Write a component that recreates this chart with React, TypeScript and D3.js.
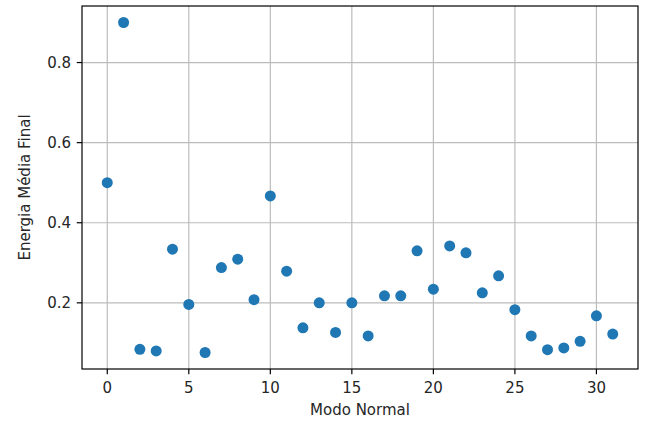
import * as d3 from 'd3';

const WIDTH = 645;
const HEIGHT = 423;
const MARGINS = { top: 6, right: 7, bottom: 54, left: 82 };

const modes = d3.range(0, 32);
const energies = [
  0.5, 0.9, 0.084, 0.08, 0.334, 0.196, 0.076, 0.288, 0.309, 0.208, 0.467, 0.279, 0.1375, 0.2, 0.126,
  0.2, 0.1175, 0.2175, 0.2175, 0.33, 0.234, 0.342, 0.325, 0.225, 0.2675, 0.183, 0.1175, 0.083, 0.0875,
  0.104, 0.1675, 0.122,
];
const xTicks = [0, 5, 10, 15, 20, 25, 30];
const yTicks = [0.2, 0.4, 0.6, 0.8];

const FONT = 'DejaVu Sans, sans-serif';

export default function App() {
  const innerW = WIDTH - MARGINS.left - MARGINS.right;
  const innerH = HEIGHT - MARGINS.top - MARGINS.bottom;

  // matplotlib default 5% margins around data range
  const xExt = d3.extent(modes) as [number, number];
  const yExt = d3.extent(energies) as [number, number];
  const xPad = (xExt[1] - xExt[0]) * 0.05;
  const yPad = (yExt[1] - yExt[0]) * 0.05;

  const x = d3.scaleLinear().domain([xExt[0] - xPad, xExt[1] + xPad]).range([0, innerW]);
  const y = d3.scaleLinear().domain([yExt[0] - yPad, yExt[1] + yPad]).range([innerH, 0]);

  return (
    <svg
      width={WIDTH}
      height={HEIGHT}
      style={{ position: 'absolute', left: 0, top: 0, background: '#fff' }}
      fontFamily={FONT}
    >
      <g transform={`translate(${MARGINS.left},${MARGINS.top})`}>
        {xTicks.map((t) => (
          <line key={`gx${t}`} x1={x(t)} x2={x(t)} y1={0} y2={innerH} stroke='#bcbcbc' strokeWidth={1.2} />
        ))}
        {yTicks.map((t) => (
          <line key={`gy${t}`} x1={0} x2={innerW} y1={y(t)} y2={y(t)} stroke='#bcbcbc' strokeWidth={1.2} />
        ))}
        {modes.map((m, i) => (
          <circle key={m} cx={x(m)} cy={y(energies[i])} r={5.5} fill='#1f77b4' />
        ))}
        <rect x={0} y={0} width={innerW} height={innerH} fill='none' stroke='#000' strokeWidth={1.2} />
        {xTicks.map((t) => (
          <g key={`tx${t}`} transform={`translate(${x(t)},${innerH})`}>
            <line y1={0} y2={5.25} stroke='#000' strokeWidth={1.2} />
            <text y={24} textAnchor='middle' fontSize={15} fill='#262626'>
              {t}
            </text>
          </g>
        ))}
        {yTicks.map((t) => (
          <g key={`ty${t}`} transform={`translate(0,${y(t)})`}>
            <line x1={0} x2={-5.25} stroke='#000' strokeWidth={1.2} />
            <text x={-11} dy='0.35em' textAnchor='end' fontSize={15} fill='#262626'>
              {d3.format('.1f')(t)}
            </text>
          </g>
        ))}
        <text x={innerW / 2} y={innerH + 46} textAnchor='middle' fontSize={15} fill='#262626'>
          Modo Normal
        </text>
        <text
          transform={`translate(${-52},${innerH / 2}) rotate(-90)`}
          textAnchor='middle'
          fontSize={15}
          fill='#262626'
        >
          Energia Média Final
        </text>
      </g>
    </svg>
  );
}
